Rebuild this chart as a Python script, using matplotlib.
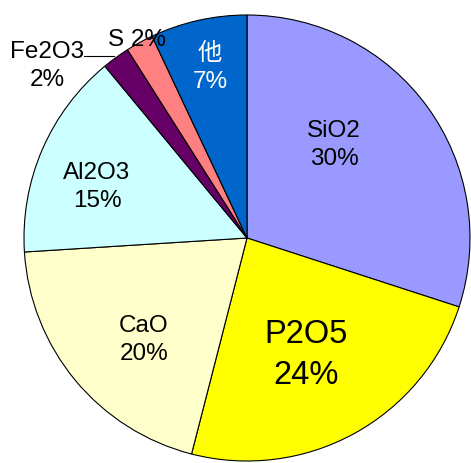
import matplotlib
matplotlib.use("Agg")
import matplotlib.pyplot as plt

# Composition shares (percent), drawn clockwise from 12 o'clock
components = ["SiO2", "P2O5", "CaO", "Al2O3", "Fe2O3", "S", "他"]
shares = [30, 24, 20, 15, 2, 2, 7]
colors = ["#9999FF", "#FFFF00", "#FFFFCC", "#CCFFFF", "#660066", "#FF8080", "#0066CC"]

W, H = 471, 464
CENTER = (247, H - 239)
RADIUS = 223

# label anchor in pixel space (x, y from top), font size, colour
label_style = {
    "SiO2": ((334, 145), 17.5, "black"),
    "P2O5": ((306, 355), 23.5, "black"),
    "CaO": ((144, 340), 17.5, "black"),
    "Al2O3": ((97, 187), 17.5, "black"),
    "Fe2O3": ((47, 66), 17.5, "black"),
    "他": ((210, 68), 17.5, "white"),
}

plt.rcParams["font.family"] = ["Liberation Sans", "Noto Sans CJK JP", "DejaVu Sans"]

fig = plt.figure(figsize=(W / 100, H / 100), dpi=100)
ax = fig.add_axes([0, 0, 1, 1])

ax.pie(
    shares,
    colors=colors,
    startangle=90,
    counterclock=False,
    center=CENTER,
    radius=RADIUS,
    wedgeprops={"edgecolor": "black", "linewidth": 0.8},
)

for name, share in zip(components, shares):
    if name == "S":
        ax.text(137, H - 40, f"{name} {share}%", ha="center", va="center",
                fontsize=17.5, color="black")
        continue
    (px, py), size, color = label_style[name]
    ax.text(px, H - py, f"{name}\n{share}%", ha="center", va="center",
            fontsize=size, color=color, linespacing=1.4)

# leader line for the Fe2O3 label
ax.plot([84, 114], [H - 57, H - 57], color="black", linewidth=0.8)

ax.set_xlim(0, W)
ax.set_ylim(0, H)
ax.set_axis_off()

fig.savefig("out.png", dpi=100)
